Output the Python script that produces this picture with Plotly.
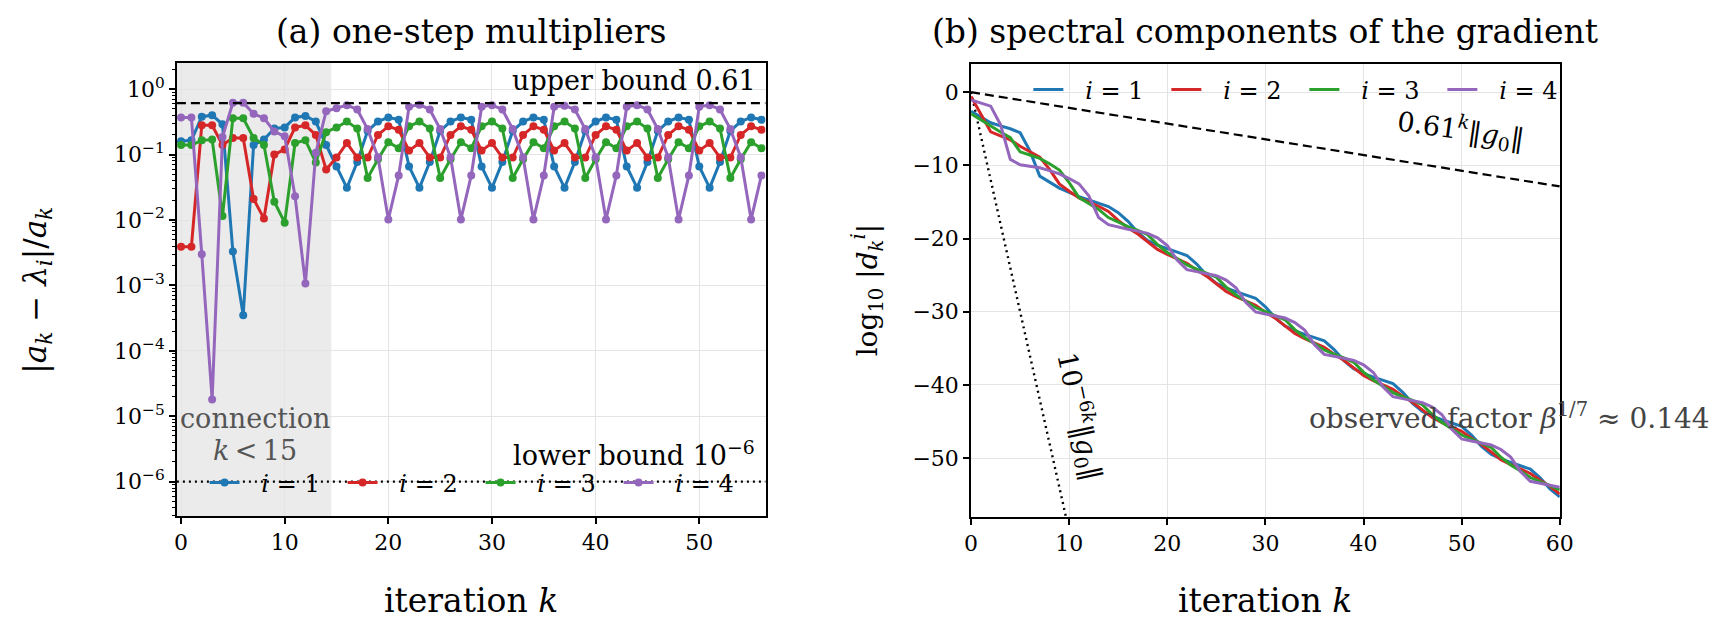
import plotly.graph_objects as go

W, H = 1717, 632

# ---------------- data ----------------
k_a = list(range(57))
k_b = list(range(61))

blue_a = [0.16, 0.165, 0.38, 0.40, 0.29, 0.0033, 0.00035, 0.14, 0.17, 0.25, 0.26, 0.37, 0.39, 0.32, 0.14,
          0.066, 0.031, 0.077, 0.23, 0.32, 0.37, 0.34,
          0.066, 0.031, 0.077, 0.23, 0.32, 0.37, 0.34,
          0.066, 0.031, 0.077, 0.23, 0.32, 0.37, 0.34,
          0.066, 0.031, 0.077, 0.23, 0.32, 0.37, 0.34,
          0.066, 0.031, 0.077, 0.23, 0.32, 0.37, 0.34,
          0.066, 0.031, 0.077, 0.23, 0.32, 0.37, 0.34]
red_a = [0.0039, 0.0039, 0.28, 0.28, 0.14, 0.18, 0.18, 0.021, 0.0105, 0.10, 0.12, 0.26, 0.28, 0.20, 0.059, 0.09,
         0.15, 0.09, 0.09, 0.20, 0.27, 0.24, 0.115,
         0.15, 0.09, 0.09, 0.20, 0.27, 0.24, 0.115,
         0.15, 0.09, 0.09, 0.20, 0.27, 0.24, 0.115,
         0.15, 0.09, 0.09, 0.20, 0.27, 0.24, 0.115,
         0.15, 0.09, 0.09, 0.20, 0.27, 0.24, 0.115,
         0.15, 0.09, 0.09, 0.20, 0.27, 0.24]
green_a = [0.14, 0.14, 0.165, 0.17, 0.0115, 0.36, 0.36, 0.18, 0.14, 0.019, 0.0091, 0.15, 0.165, 0.076, 0.22, 0.26,
           0.32, 0.25, 0.044, 0.085, 0.155, 0.125, 0.27,
           0.32, 0.25, 0.044, 0.085, 0.155, 0.125, 0.27,
           0.32, 0.25, 0.044, 0.085, 0.155, 0.125, 0.27,
           0.32, 0.25, 0.044, 0.085, 0.155, 0.125, 0.27,
           0.32, 0.25, 0.044, 0.085, 0.155, 0.125, 0.27,
           0.32, 0.25, 0.044, 0.085, 0.155, 0.125]
purple_a = [0.37, 0.37, 0.0030, 1.8e-5, 0.185, 0.62, 0.62, 0.42, 0.36, 0.225, 0.19, 0.023, 0.00107, 0.107, 0.46, 0.51,
            0.57, 0.49, 0.245, 0.091, 0.0102, 0.048, 0.54,
            0.58, 0.49, 0.245, 0.091, 0.0102, 0.048, 0.54,
            0.57, 0.49, 0.245, 0.091, 0.0102, 0.048, 0.54,
            0.56, 0.49, 0.245, 0.091, 0.0102, 0.048, 0.54,
            0.57, 0.49, 0.245, 0.091, 0.0102, 0.048, 0.54,
            0.57, 0.49, 0.245, 0.091, 0.0102, 0.048]

blue_b = [-2.60, -3.40, -4.18, -4.60, -5.00, -5.54, -8.02, -11.47, -12.33, -13.10,
          -13.70, -14.28, -14.72, -15.13, -15.62, -16.47, -17.65, -19.16, -20.28, -20.91,
          -21.41, -21.84, -22.31, -23.49, -25.00, -26.11, -26.75, -27.25, -27.68, -28.15,
          -29.33, -30.83, -31.95, -32.59, -33.08, -33.51, -33.98, -35.16, -36.67, -37.78,
          -38.42, -38.92, -39.35, -39.82, -41.00, -42.51, -43.62, -44.26, -44.75, -45.19,
          -45.66, -46.84, -48.35, -49.46, -50.10, -50.59, -51.03, -51.50, -52.68, -54.19, -55.30]
red_b = [-0.60, -3.01, -5.42, -5.97, -6.52, -7.38, -8.12, -8.87, -10.55, -12.53,
         -13.53, -14.45, -15.03, -15.59, -16.29, -17.51, -18.56, -19.38, -20.43, -21.48,
         -22.18, -22.75, -23.37, -24.31, -25.13, -26.18, -27.22, -27.92, -28.49, -29.11,
         -30.05, -30.87, -31.92, -32.97, -33.67, -34.23, -34.85, -35.79, -36.62, -37.66,
         -38.71, -39.41, -39.98, -40.60, -41.54, -42.36, -43.41, -44.45, -45.15, -45.72,
         -46.34, -47.28, -48.10, -49.15, -50.20, -50.90, -51.47, -52.09, -53.03, -53.85, -54.90]
green_b = [-2.95, -3.80, -4.66, -5.44, -6.21, -8.15, -8.59, -9.04, -9.78, -10.64,
           -12.36, -14.40, -15.22, -16.01, -17.13, -17.79, -18.37, -18.87, -19.47, -20.83,
           -21.90, -22.71, -23.61, -24.18, -24.68, -25.28, -26.64, -27.71, -28.52, -29.42,
           -29.99, -30.49, -31.09, -32.44, -33.52, -34.33, -35.23, -35.80, -36.29, -36.90,
           -38.25, -39.32, -40.13, -41.04, -41.61, -42.10, -42.70, -44.06, -45.13, -45.94,
           -46.84, -47.41, -47.91, -48.51, -49.87, -50.94, -51.75, -52.65, -53.22, -53.72, -54.32]
purple_b = [-1.05, -1.48, -1.91, -4.44, -9.18, -9.92, -10.12, -10.33, -10.71, -11.15,
            -11.80, -12.52, -14.16, -17.13, -18.10, -18.44, -18.73, -18.98, -19.29, -19.90,
            -20.94, -22.93, -24.25, -24.52, -24.76, -25.07, -25.68, -26.72, -28.71, -30.03,
            -30.30, -30.55, -30.86, -31.47, -32.51, -34.50, -35.82, -36.09, -36.33, -36.64,
            -37.25, -38.29, -40.28, -41.60, -41.87, -42.11, -42.42, -43.03, -44.07, -46.06,
            -47.38, -47.65, -47.89, -48.20, -48.81, -49.85, -51.84, -53.16, -53.43, -53.67, -53.98]

upper_bound = 0.61
lower_bound = 1e-6
connection_end = 14.5
bound_k = [0, 60]
upper_line_b = [0.0, -12.88]     # log10(0.61^k)
lower_line_b = [0.0, -60.0]      # log10(10^{-6k})
lower_line_k = [0, 10]

series_names = ["\u2002\u2009<i>i</i> = 1", "\u2002\u2009<i>i</i> = 2",
                "\u2002\u2009<i>i</i> = 3", "\u2002\u2009<i>i</i> = 4"]
yticks_a = [1e-6, 1e-5, 1e-4, 1e-3, 1e-2, 1e-1, 1]
yticks_a_text = ["10<sup>−6</sup>", "10<sup>−5</sup>", "10<sup>−4</sup>", "10<sup>−3</sup>",
                 "10<sup>−2</sup>", "10<sup>−1</sup>", "10<sup>0</sup>"]

# ---------------- styling ----------------
colors = ["#1f77b4", "#d62728", "#2ca02c", "#9467bd"]
FONT = "DejaVu Serif"
TICK = 22
TITLE = 33
LAB = 33
ANN = 27
LEG = 24


def px(x):
    return x / W


def py(y):
    return 1 - y / H


xlim_a = [-0.4, 56.4]
fig = go.Figure()

for s, c, n in zip([blue_a, red_a, green_a, purple_a], colors, series_names):
    fig.add_trace(go.Scatter(x=k_a, y=s, mode="lines+markers", name=n,
                             line=dict(color=c, width=3), marker=dict(color=c, size=8),
                             xaxis="x", yaxis="y", legend="legend"))

fig.add_trace(go.Scatter(x=xlim_a, y=[upper_bound, upper_bound], mode="lines", showlegend=False,
                         line=dict(color="black", width=2.2, dash="9px,5px"), xaxis="x", yaxis="y"))
fig.add_trace(go.Scatter(x=xlim_a, y=[lower_bound, lower_bound], mode="lines", showlegend=False,
                         line=dict(color="black", width=2.4, dash="2px,4px"), xaxis="x", yaxis="y"))

fig.add_trace(go.Scatter(x=bound_k, y=upper_line_b, mode="lines", showlegend=False,
                         line=dict(color="black", width=2.2, dash="9px,5px"), xaxis="x2", yaxis="y2"))
fig.add_trace(go.Scatter(x=lower_line_k, y=lower_line_b, mode="lines", showlegend=False,
                         line=dict(color="black", width=2.4, dash="2px,4px"), xaxis="x2", yaxis="y2"))

for s, c, n in zip([blue_b, red_b, green_b, purple_b], colors, series_names):
    fig.add_trace(go.Scatter(x=k_b, y=s, mode="lines", name=n,
                             line=dict(color=c, width=3),
                             xaxis="x2", yaxis="y2", legend="legend2"))

axis_common = dict(showline=True, mirror=True, linecolor="black", linewidth=1.6,
                   ticks="outside", ticklen=6, tickwidth=1.6, tickcolor="black",
                   showgrid=True, gridcolor="#e4e4e4", gridwidth=1, zeroline=False,
                   tickfont=dict(family=FONT, size=TICK, color="black"))

minor_vals = [m * 10.0 ** d for d in range(-7, 1) for m in range(2, 10)]

legend_common = dict(orientation="h", xanchor="left", yanchor="middle",
                     bgcolor="rgba(0,0,0,0)", font=dict(family=FONT, size=LEG),
                     entrywidth=93, entrywidthmode="pixels", itemwidth=30)

fig.update_layout(
    width=W, height=H, margin=dict(l=0, r=0, t=0, b=0),
    paper_bgcolor="white", plot_bgcolor="white",
    font=dict(family=FONT, color="black"),
    xaxis=dict(domain=[px(172), px(768)], range=xlim_a, tickvals=[0, 10, 20, 30, 40, 50],
               anchor="y", **axis_common),
    yaxis=dict(domain=[py(516), py(63)], type="log", range=[-6.525, 0.40],
               tickvals=yticks_a, ticktext=yticks_a_text, anchor="x",
               minor=dict(ticks="outside", ticklen=3.5, tickwidth=1.1, tickcolor="black",
                          tickvals=minor_vals, showgrid=False),
               **axis_common),
    xaxis2=dict(domain=[px(976), px(1572)], range=[0, 60], dtick=10, anchor="y2", **axis_common),
    yaxis2=dict(domain=[py(516.7), py(64)], range=[-58, 3.85], dtick=10, anchor="x2", **axis_common),
    legend=dict(x=px(200), y=py(483), **legend_common),
    legend2=dict(x=px(1034), y=py(90), **legend_common),
    showlegend=True,
)

fig.add_shape(type="rect", xref="x", yref="y domain", x0=xlim_a[0], x1=connection_end, y0=0, y1=1,
              fillcolor="#ebebeb", line=dict(width=0), layer="below")

ann = []
ann.append(dict(text="(a) one-step multipliers", x=px(470), y=py(31), font=dict(size=TITLE)))
ann.append(dict(text="(b) spectral components of the gradient", x=px(1274), y=py(31), font=dict(size=TITLE)))
ann.append(dict(text="iteration <i>k</i>", x=px(470), y=py(600), font=dict(size=LAB)))
ann.append(dict(text="iteration <i>k</i>", x=px(1274), y=py(600), font=dict(size=LAB)))
ann.append(dict(text="|<i>a<sub>k</sub></i> − <i>λ<sub>i</sub></i>|/<i>a<sub>k</sub></i>", x=px(30), y=py(290),
                textangle=-90, font=dict(size=31)))
ann.append(dict(text="log<sub>10</sub> |<i>d</i><sub><i>k</i></sub><sup><i>i</i></sup>|", x=px(871), y=py(290),
                textangle=-90, font=dict(size=28)))
ann.append(dict(text="upper bound 0.61", x=px(760), y=py(80), xanchor="right", font=dict(size=ANN)))
ann.append(dict(text="lower bound 10<sup>−6</sup>", x=px(759), y=py(453), xanchor="right", font=dict(size=ANN)))
ann.append(dict(text="connection", x=px(251), y=py(418), font=dict(size=ANN, color="#555555")))
ann.append(dict(text="<i>k</i>\u2009<\u200915", x=px(251), y=py(450), font=dict(size=ANN, color="#555555")))
ann.append(dict(text="0.61<sup><i>k</i></sup>‖<i>g</i><sub>0</sub>‖", x=px(1472), y=py(129), textangle=8,
                font=dict(size=ANN)))
ann.append(dict(text="10<sup>−6<i>k</i></sup>‖<i>g</i><sub>0</sub>‖", x=px(1087), y=py(416), textangle=78,
                font=dict(size=ANN)))
ann.append(dict(text="observed factor <i>β</i><sup>1/7</sup> ≈ 0.144", x=px(1316), y=py(416), xanchor="left",
                font=dict(size=28, color="#444444")))

for a in ann:
    a.setdefault("xanchor", "center")
    a.setdefault("yanchor", "middle")
    a["xref"] = "paper"
    a["yref"] = "paper"
    a["showarrow"] = False
    a["font"] = dict(family=FONT, color=a["font"].get("color", "black"), size=a["font"]["size"])
    fig.add_annotation(**a)

fig.write_html("out.html")
